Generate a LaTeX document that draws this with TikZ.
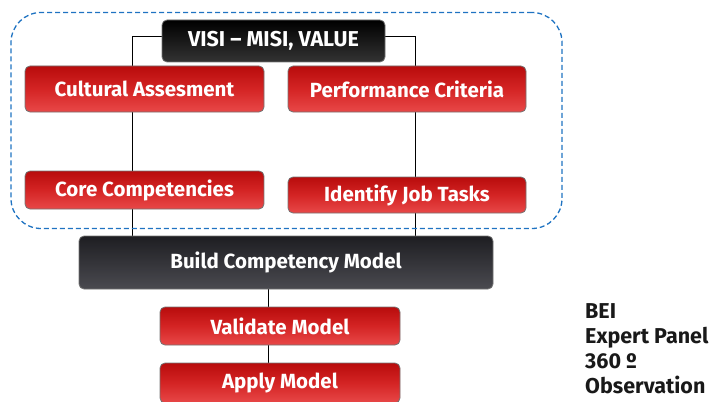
\documentclass[tikz,border=0pt]{standalone}
\usepackage{fontspec}
\setmainfont{Fira Sans}
\usetikzlibrary{calc}
\pgfdeclarelayer{bg}
\pgfsetlayers{bg,main}
\definecolor{dashblue}{HTML}{1F73C2}
\definecolor{redtop}{HTML}{B80C0C}
\definecolor{redmid}{HTML}{D42424}
\definecolor{redbot}{HTML}{E84848}
\definecolor{darktop}{HTML}{1E1E22}
\definecolor{darkbot}{HTML}{4A4A50}
\tikzset{
  boxbase/.style={rounded corners=5pt, draw=black!55, line width=0.8pt, text=white,
    font=\fontsize{20.5}{22}\selectfont\bfseries, inner sep=0pt},
  redbox/.style={boxbase, top color=redtop, bottom color=redbot, middle color=redmid},
  darkbox/.style={boxbase, top color=darktop, bottom color=darkbot},
  blackbox/.style={boxbase, top color=black, bottom color=black!80, font=\fontsize{21.5}{22}\selectfont\bfseries},
  conn/.style={line width=1pt, draw=black},
  groupbox/.style={draw=dashblue, dash pattern=on 5pt off 3pt, line width=1.3pt, rounded corners=30pt},
  sidetext/.style={font=\fontsize{21.5}{25}\selectfont\bfseries, text=black!90, align=left, anchor=north west, inner sep=0pt}
}
\begin{document}
\begin{tikzpicture}[x=1pt,y=-1pt]
\useasboundingbox (0,0) rectangle (711,401);
\node[groupbox, minimum width=551pt, minimum height=216pt] (grp) at (286.5,120.5) {};
\node[blackbox, minimum width=223pt, minimum height=42pt] (visi) at (273.5,41) {VISI -- MISI, VALUE};
\node[redbox, minimum width=239pt, minimum height=46pt] (ca) at (144.5,89) {Cultural Assesment};
\node[redbox, minimum width=238pt, minimum height=46pt] (pc) at (407,89) {Performance Criteria};
\node[redbox, minimum width=239pt, minimum height=38pt] (cc) at (144.5,190) {Core Competencies};
\node[redbox, minimum width=238pt, minimum height=36pt] (ij) at (407,195) {Identify Job Tasks};
\node[darkbox, minimum width=414pt, minimum height=53pt] (build) at (286,262.5) {Build Competency Model};
\node[redbox, minimum width=240pt, minimum height=38pt] (vm) at (280,326) {Validate Model};
\node[redbox, minimum width=240pt, minimum height=40pt] (am) at (280,383) {Apply Model};
\node[sidetext] (side) at (585,303) {BEI\\Expert Panel\\360 º\\Observation};
\coordinate (lx) at (132,0);
\coordinate (rx) at (415,0);
\coordinate (mx) at (268,0);
\begin{pgfonlayer}{bg}
\draw[conn] ([yshift=4pt]visi.west) -| (lx |- build.north);
\draw[conn] ([yshift=4pt]visi.east) -| (rx |- pc.north);
\draw[conn] (rx |- pc.south) -- (rx |- ij.north);
\draw[conn] (rx |- ij.south) -- (rx |- build.north);
\draw[conn] (mx |- build.south) -- (mx |- vm.north);
\draw[conn] (mx |- vm.south) -- (mx |- am.north);
\end{pgfonlayer}
\end{tikzpicture}
\end{document}
